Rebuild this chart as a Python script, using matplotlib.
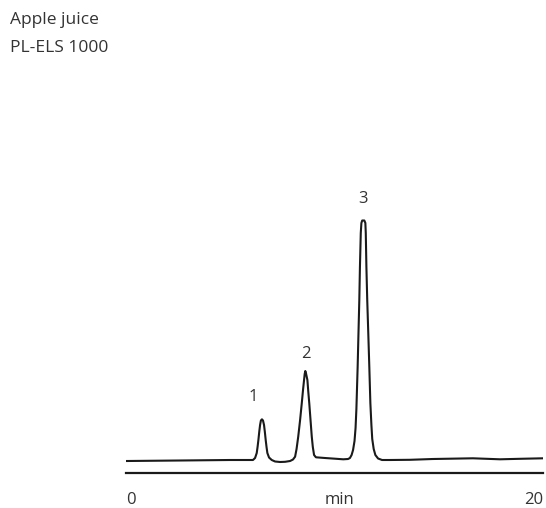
import matplotlib
matplotlib.use("Agg")
import matplotlib.pyplot as plt

plt.rcParams['font.family'] = ['Open Sans', 'DejaVu Sans']

# chromatogram trace: time (min) vs detector signal (arb. units)
time_min = [0.05, 2.59, 4.99, 6.09, 6.19, 6.27, 6.31, 6.35, 6.39, 6.43, 6.47, 6.52,
            6.57, 6.62, 6.66, 6.70, 6.74, 6.78, 6.86, 6.99, 7.15, 7.39, 7.63, 7.87,
            8.01, 8.11, 8.18, 8.26, 8.35, 8.43, 8.49, 8.54, 8.57, 8.60, 8.63, 8.70,
            8.74, 8.79, 8.85, 8.91, 8.96, 9.02, 9.11, 9.54, 10.02, 10.42, 10.65, 10.74,
            10.82, 10.89, 10.96, 11.01, 11.05, 11.11, 11.15, 11.19, 11.22, 11.26, 11.29,
            11.33, 11.43, 11.48, 11.50, 11.53, 11.57, 11.62, 11.67, 11.72, 11.77, 11.81,
            11.88, 11.96, 12.09, 12.28, 12.66, 13.62, 14.72, 16.64, 17.94, 18.90, 20.0]
signal = [0, 0.5, 1.0, 1.0, 3, 8, 14, 21, 29, 36, 40.5, 41.7,
          40.5, 36, 29, 21, 14, 8, 3.5, 1, -0.5, -1, -0.8, 0,
          1.5, 4.3, 12, 24.3, 41, 57.7, 71, 81, 87, 90, 88, 81,
          70, 57.7, 41, 24.3, 14, 6, 3.7, 3, 2.3, 1.7, 2, 3,
          6, 11, 20, 33, 52, 94, 128, 161, 194, 228, 238,
          240.5, 240.5, 238, 228, 194, 161, 128, 94, 58, 36, 22,
          12, 6, 2.5, 1, 1, 1.2, 2, 2.7, 1.7, 2.2, 2.7]

peak_names = ['1', '2', '3']
peak_label_t = [6.08, 8.62, 11.35]
peak_label_s = [64, 107, 262]

tick_pos = [0, 20]
tick_labels = ['0', '20']

ink = '#1a1a1a'
txt = '#333333'

fig = plt.figure(figsize=(5.46, 5.08), dpi=100)
ax = fig.add_axes([126 / 546, 35 / 508, 417 / 546, 293 / 508])

ax.plot(time_min, signal, color=ink, lw=1.5, solid_joinstyle='round')

for name, t, s in zip(peak_names, peak_label_t, peak_label_s):
    ax.text(t, s, name, ha='center', va='center', fontsize=12, color=txt)

ax.set_xlim(0, 20)
ax.set_ylim(-12, 281)

for side in ['top', 'right', 'left']:
    ax.spines[side].set_visible(False)
ax.spines['bottom'].set_linewidth(1.6)
ax.spines['bottom'].set_color(ink)
ax.set_yticks([])

ax.set_xticks(tick_pos, tick_labels)
ax.tick_params(axis='x', length=0, pad=14, labelsize=12, labelcolor=txt)
labels = ax.get_xticklabels()
labels[0].set_ha('left')
labels[1].set_ha('right')
ax.set_xlabel('min', fontsize=12, color=txt)
ax.xaxis.set_label_coords(0.513, -0.092)
ax.xaxis.label.set_va('center')

fig.text(10 / 546, 1 - 20 / 508, 'Apple juice', ha='left', va='center', fontsize=12.5, color=txt)
fig.text(10 / 546, 1 - 48 / 508, 'PL-ELS 1000', ha='left', va='center', fontsize=12.5, color=txt)

fig.savefig('out.png', dpi=100)
